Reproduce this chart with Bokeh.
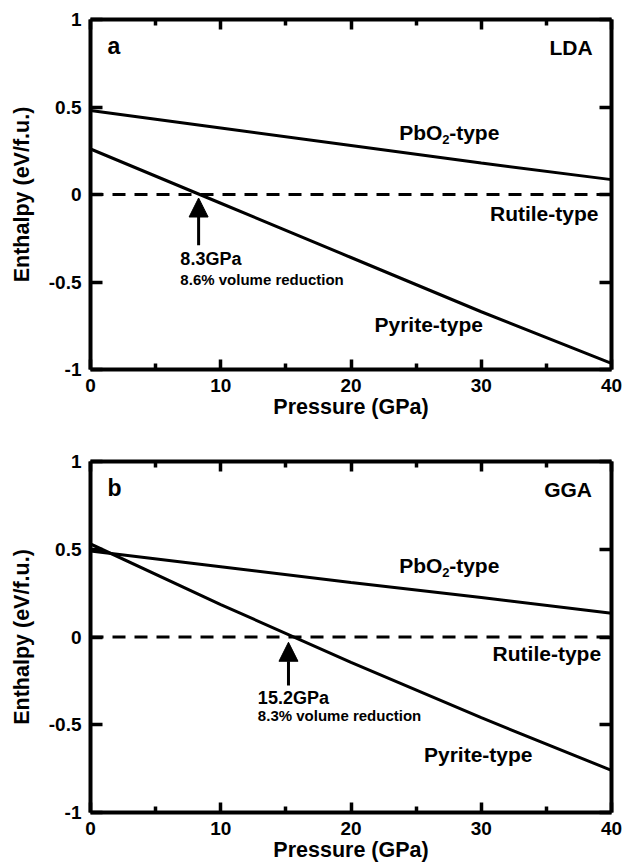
from bokeh.plotting import figure
from bokeh.models import LinearAxis, FixedTicker, Arrow, NormalHead, Range1d
from bokeh.layouts import column
from bokeh.embed import file_html
from bokeh.resources import INLINE
from bokeh.core.properties import value

FONT = "Liberation Sans"

# ---------------- data ----------------
pressure = [0, 10, 20, 30, 40]
rutile_h = [0, 0, 0, 0, 0]

lda_pbo2 = [0.48, 0.38, 0.28, 0.18, 0.085]
lda_pyrite = [0.26, -0.05, -0.36, -0.67, -0.965]
lda_transition = 8.3
lda_volred = 8.6

gga_pbo2 = [0.49, 0.40, 0.31, 0.225, 0.135]
gga_pyrite = [0.53, 0.185, -0.145, -0.46, -0.76]
gga_transition = 15.2
gga_volred = 8.3

x_ticks = [0, 10, 20, 30, 40]
x_minor = [5, 15, 25, 35]
x_tick_labels = ["0", "10", "20", "30", "40"]
y_ticks = [-1, -0.5, 0, 0.5, 1]
y_tick_labels = ["-1", "-0.5", "0", "0.5", "1"]


def style_axis(ax, ticks, minor, labels, show, tick_in):
    ax.ticker = FixedTicker(ticks=ticks, minor_ticks=minor)
    ax.axis_line_width = 4
    ax.axis_line_color = "black"
    ax.major_tick_in = tick_in
    ax.major_tick_out = 0
    ax.minor_tick_in = 6
    ax.minor_tick_out = 0
    ax.major_tick_line_width = 3.5
    ax.minor_tick_line_width = 3.5
    ax.major_tick_line_color = "black"
    ax.minor_tick_line_color = "black" if minor else None
    ax.major_label_overrides = {t: (l if show else "") for t, l in zip(ticks, labels)}
    ax.major_label_text_font = FONT
    ax.major_label_text_font_style = "bold"
    ax.major_label_text_color = "black"
    if show:
        ax.major_label_text_font_size = "19px"
    else:
        ax.major_label_text_font_size = "0px"
        ax.major_label_standoff = 0
    ax.axis_label_text_font = FONT
    ax.axis_label_text_font_style = "bold"
    ax.axis_label_text_font_size = "21.5px"
    ax.axis_label_text_color = "black"


def label(p, x, y, txt, size, align="left", style="bold", x_off=0, y_off=0):
    p.text(x=[x], y=[y], text=[txt], text_font=value(FONT), text_font_style=style,
           text_font_size=size, text_align=align, text_baseline="middle",
           text_color="black", x_offset=x_off, y_offset=y_off)


def make_panel(tag, method, pbo2, pyrite, pt, vr, width, height, borders, pos):
    bl, br, bt, bb = borders
    p = figure(width=width, height=height, x_range=Range1d(0, 40), y_range=Range1d(-1, 1),
               output_backend="svg", toolbar_location=None,
               min_border_left=bl, min_border_right=br, min_border_top=bt, min_border_bottom=bb,
               x_axis_label="Pressure (GPa)", y_axis_label="Enthalpy (eV/f.u.)")
    p.grid.visible = False
    p.outline_line_color = None
    p.background_fill_color = "white"
    p.border_fill_color = "white"

    p.add_layout(LinearAxis(), "above")
    p.add_layout(LinearAxis(), "right")
    for ax in p.below:
        style_axis(ax, x_ticks, x_minor, x_tick_labels, True, 10)
        ax.major_label_standoff = 9
        ax.axis_label_standoff = 0
    for ax in p.above:
        style_axis(ax, x_ticks, x_minor, x_tick_labels, False, 10)
    for ax in p.left:
        style_axis(ax, y_ticks, [], y_tick_labels, True, 12)
        ax.major_label_standoff = 9
        ax.axis_label_standoff = 12
    for ax in p.right:
        style_axis(ax, y_ticks, [], y_tick_labels, False, 12)

    p.line(pressure, rutile_h, line_color="black", line_width=3, line_dash="13 9")
    p.line(pressure, pbo2, line_color="black", line_width=3)
    p.line(pressure, pyrite, line_color="black", line_width=3)

    p.add_layout(Arrow(end=NormalHead(size=19, fill_color="black", line_color="black", line_width=1),
                       x_start=pt, y_start=pos["arrow"][0], x_end=pt, y_end=pos["arrow"][1],
                       line_width=3, line_color="black"))

    label(p, *pos["tag"], tag, "23px")
    label(p, *pos["method"], method, "21px", align="right")
    px, py = pos["pbo2"]
    label(p, px, py, "PbO", "21px")
    label(p, px, py, "2", "13px", x_off=43, y_off=7)
    label(p, px, py, "-type", "21px", x_off=50)
    label(p, *pos["rutile"], "Rutile-type", "21px", align="right")
    label(p, *pos["pyrite"], "Pyrite-type", "21px")
    tx, ty1, ty2 = pos["note"]
    label(p, tx, ty1, f"{pt}GPa", "18px")
    label(p, tx, ty2, f"{vr}% volume reduction", "15px")
    return p


pos_a = dict(arrow=(-0.29, -0.02), tag=(1.3, 0.846), method=(38.55, 0.84), pbo2=(23.7, 0.354),
             rutile=(39.0, -0.11), pyrite=(21.8, -0.74), note=(6.9, -0.37, -0.483))
pos_b = dict(arrow=(-0.276, -0.03), tag=(1.3, 0.85), method=(38.5, 0.84), pbo2=(23.7, 0.41),
             rutile=(39.2, -0.094), pyrite=(25.6, -0.67), note=(12.85, -0.347, -0.45))

pa = make_panel("a", "LDA", lda_pbo2, lda_pyrite, lda_transition, lda_volred,
                624, 436, (87, 13, 19, 67), pos_a)
pb = make_panel("b", "GGA", gga_pbo2, gga_pyrite, gga_transition, gga_volred,
                624, 429, (90, 11, 25, 53), pos_b)

layout = column(pa, pb)
open("out.html", "w").write(file_html(layout, INLINE))
